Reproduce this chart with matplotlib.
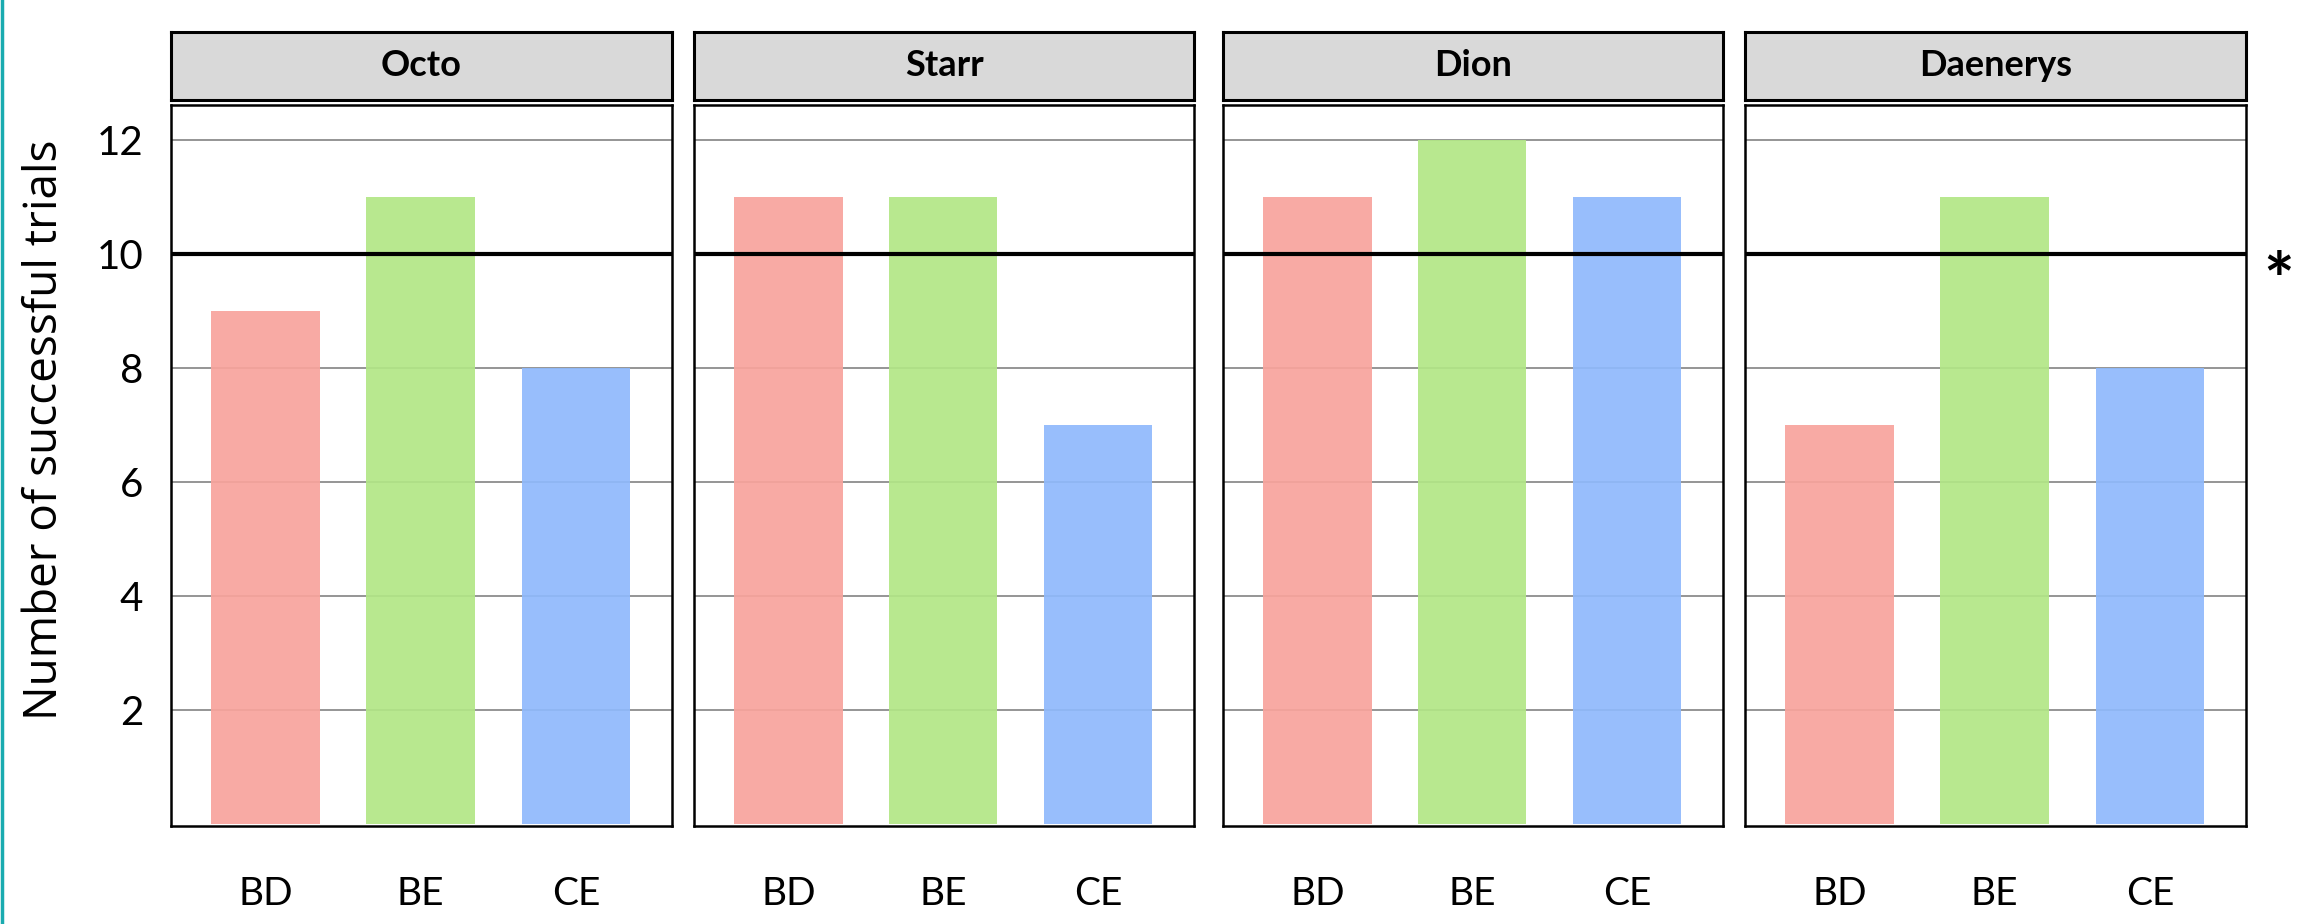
import matplotlib
matplotlib.use("Agg")
import matplotlib.pyplot as plt
from matplotlib.lines import Line2D

plt.rcParams['font.family'] = ['Lato', 'DejaVu Sans']

# Data
subjects = ["Octo", "Starr", "Dion", "Daenerys"]
conditions = ["BD", "BE", "CE"]
successes = {
    "Octo": [9, 11, 8],
    "Starr": [11, 11, 7],
    "Dion": [11, 12, 11],
    "Daenerys": [7, 11, 8],
}
threshold = 10
y_ticks = [2, 4, 6, 8, 10, 12]
bar_colors = ["#F8A39C", "#B2E686", "#8FB9FC"]

W, H = 2306, 924
fig = plt.figure(figsize=(W / 100, H / 100), dpi=100)

# panel extents in pixels (left, right)
panels_px = [(171, 672), (694, 1194), (1223, 1723), (1745, 2246)]
ax_top, ax_bot = 105, 826
strip_top, strip_bot = 32, 100

def fx(px):
    return px / W

def fy(py):
    return 1 - py / H

for i, (name, (l, r)) in enumerate(zip(subjects, panels_px)):
    ax = fig.add_axes([fx(l), fy(ax_bot), fx(r) - fx(l), fy(ax_top) - fy(ax_bot)])
    ax.set_xlim(-0.61, 2.62)
    ax.set_ylim(-0.04, 12.62)
    ax.set_yticks(y_ticks)
    for y in y_ticks:
        ax.axhline(y, color="#8c8c8c", lw=1.3, zorder=0)
    ax.bar(range(len(conditions)), successes[name], width=0.70,
           color=bar_colors, alpha=0.92, zorder=1, linewidth=0)
    ax.axhline(threshold, color="black", lw=3.0, zorder=3)
    ax.set_xticks(range(len(conditions)))
    ax.set_xticklabels(conditions, fontsize=28)
    ax.tick_params(axis="x", length=0, pad=36)
    ax.tick_params(axis="y", length=0, pad=20, labelsize=29)
    if i > 0:
        ax.tick_params(axis="y", labelleft=False)
    for s in ax.spines.values():
        s.set_linewidth(1.8)
        s.set_color("black")
        s.set_zorder(4)

    # facet strip
    sax = fig.add_axes([fx(l), fy(strip_bot), fx(r) - fx(l), fy(strip_top) - fy(strip_bot)])
    sax.set_facecolor("#D9D9D9")
    sax.set_xticks([])
    sax.set_yticks([])
    for s in sax.spines.values():
        s.set_linewidth(2.2)
        s.set_color("black")
    sax.text(0.5, 0.5, name, ha="center", va="center", fontsize=26,
             fontweight="bold", transform=sax.transAxes)

fig.text(fx(45), fy(430), "Number of successful trials", rotation=90,
         ha="center", va="center", fontsize=33, family=["Open Sans", "DejaVu Sans"])
fig.text(fx(2279), fy(285), "*", ha="center", va="center", fontsize=52,
         fontweight="bold")

# accent rule along the left edge
fig.add_artist(Line2D([fx(1.5), fx(1.5)], [0, 1], color="#1AABB0", lw=2.5,
                      transform=fig.transFigure))

fig.savefig("out.png", dpi=100)
